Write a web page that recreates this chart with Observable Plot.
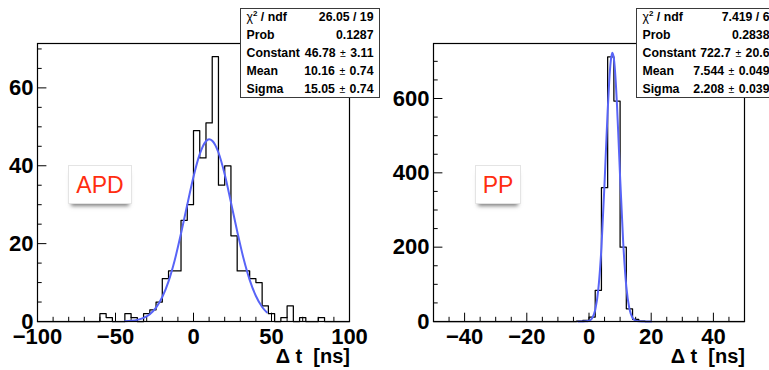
<!DOCTYPE html>
<html>
<head>
<meta charset="utf-8">
<script src="https://cdn.jsdelivr.net/npm/d3@7"></script>
<script src="https://cdn.jsdelivr.net/npm/@observablehq/plot@0.6"></script>
<style>
html,body{margin:0;padding:0;background:#fff;overflow:hidden;}
#page{position:relative;width:769px;height:370px;overflow:hidden;font-family:"Liberation Sans",Arial,Helvetica,sans-serif;background:#fff;}
.panel{position:absolute;top:0;}
.stats{position:absolute;top:8px;width:140px;height:90px;background:#fff;border:1.3px solid #3a3a3a;box-sizing:border-box;font-weight:bold;font-size:12.3px;color:#000;}
.stats .row{position:absolute;left:5.5px;right:5.5px;height:18px;line-height:18px;white-space:nowrap;}
.stats .k{position:absolute;left:0;top:0;}
.stats .v{position:absolute;right:0;top:0;}
.pm{font-weight:normal;font-size:10.5px;margin:0 1px;}
.chi{font-weight:normal;}
.stats sup{font-size:8px;line-height:0;}
.tag{position:absolute;top:165px;height:39px;background:#fff;border:1px solid #e4e4e4;box-sizing:border-box;box-shadow:0 5px 4px -3px rgba(0,0,0,0.5);color:#ff2d10;font-size:23px;text-align:center;line-height:39px;}
.xtitle{position:absolute;top:347px;font-weight:bold;font-size:20px;white-space:pre;line-height:19px;height:20px;color:#000;}
</style>
</head>
<body>
<div id="page">
  <div id="left" class="panel" style="left:0px;"></div>
  <div id="right" class="panel" style="left:385px;"></div>
</div>
<script>
// ---------- data ----------
// APD: 50 bins of 4 ns from -100 to 100
const apdBinStart = -100;
const apdBinWidth = 4;
const apdCounts = [
  0,0,0,0,0,0,0,0,0,0,
  2,1,0,0,2,1,0,2,3,5,
  11,13,13,26,30,49,42,51,68,35,
  40,22,13,13,11,10,4,2,0,1,
  4,0,1,0,0,1,0,0,0,0
];
// PP: 50 bins of 2 ns from -50 to 50
const ppBinStart = -50;
const ppBinWidth = 2;
const ppCounts = [
  0,0,0,0,0,0,0,0,0,0,
  0,0,0,0,0,0,0,0,0,0,
  0,0,0,1,3,12,84,360,712,593,
  200,34,6,1,0,0,0,0,0,0,
  0,0,0,0,0,0,0,0,0,0
];
// Gaussian fit curves
const apdFitX = [-44,-40,-36,-32,-28,-24,-20,-16,-12,-8,-4,0,4,8,10,12,16,20,24,28,32,36,40,44,47];
const apdFitY = [0.07,0.18,0.42,0.93,1.88,3.56,6.28,10.3,15.8,22.6,30.0,37.2,43.0,46.3,46.8,46.4,43.4,37.8,30.6,23.2,16.3,10.7,6.55,3.73,2.34];
const ppFitX = [-3.5,-2,-1,0,1,2,3,4,5,5.5,6,6.5,7,7.5,8,8.5,9,9.5,10,11,12,13,14,15,16,17,18,20];
const ppFitY = [0,0.05,0.4,2.1,9.0,30.9,86.9,199,372,471,566,646,701,723,707,658,582,488,389,212,94,34,10,2.4,0.5,0.07,0,0];
// axes
const apdXDomain = [-100, 100];
const apdYDomain = [0, 71.4];
const apdXMajor = [-100, -50, 0, 50, 100];
const apdXMinor = [-90,-80,-70,-60,-40,-30,-20,-10,10,20,30,40,60,70,80,90];
const apdYMajor = [0, 20, 40, 60];
const apdYMinor = [5,10,15,25,30,35,45,50,55,65,70];
const ppXDomain = [-50, 50];
const ppYDomain = [0, 748];
const ppXMajor = [-40, -20, 0, 20, 40];
const ppXMinor = [-50,-45,-35,-30,-25,-15,-10,-5,5,10,15,25,30,35,45,50];
const ppYMajor = [0, 200, 400, 600];
const ppYMinor = [50,100,150,250,300,350,450,500,550,650,700];
const apdStats = [["Prob","0.1287",null],["Constant","46.78","3.11"],["Mean","10.16","0.74"],["Sigma","15.05","0.74"]];
const apdChi = "26.05 / 19";
const ppStats = [["Prob","0.2838",null],["Constant","722.7","20.6"],["Mean","7.544","0.049"],["Sigma","2.208","0.039"]];
const ppChi = "7.419 / 6";
const xTitle = "\u0394 t  [ns]";

// ---------- drawing ----------
const fmt = d => d < 0 ? "\u2212" + (-d) : String(d);

function stepData(counts, start, width) {
  const pts = counts.map((c, i) => ({x: start + i * width, y: c}));
  pts.push({x: start + counts.length * width, y: counts[counts.length - 1]});
  return pts;
}

function panel(o) {
  const H = 370, mt = 43, mb = 49;
  const fw = o.W - o.ml - o.mr, fh = H - mt - mb;
  return Plot.plot({
    width: o.W, height: H,
    marginLeft: o.ml, marginRight: o.mr, marginTop: mt, marginBottom: mb,
    style: {fontFamily: "'Liberation Sans', Arial, sans-serif", background: "transparent", overflow: "visible", color: "#000"},
    x: {domain: o.xDomain},
    y: {domain: o.yDomain},
    marks: [
      Plot.tickX(o.xMinor, {x: d => d, insetTop: fh - 4.2, stroke: "#000"}),
      Plot.tickX(o.xMajor, {x: d => d, insetTop: fh - 8.3, stroke: "#000"}),
      Plot.tickY(o.yMinor, {y: d => d, insetRight: fw - 4.7, stroke: "#000"}),
      Plot.tickY(o.yMajor, {y: d => d, insetRight: fw - 9.4, stroke: "#000"}),
      Plot.line(stepData(o.counts, o.start, o.width), {x: "x", y: "y", curve: "step-after", stroke: "#000", strokeWidth: 1.25}),
      Plot.line(o.fitX.map((x, i) => ({x, y: o.fitY[i]})), {x: "x", y: "y", curve: "monotone-x", stroke: "#5864f7", strokeWidth: 2}),
      Plot.frame({stroke: "#000", strokeWidth: 1.2}),
      Plot.axisX({ticks: o.xMajor, tickSize: 0, tickPadding: 7, tickFormat: fmt, fontSize: 22, fontWeight: "bold", label: null}),
      Plot.axisY({ticks: o.yMajor, tickSize: 0, tickPadding: 4, tickFormat: fmt, fontSize: 22, fontWeight: "bold", label: null})
    ]
  });
}

document.getElementById("left").appendChild(panel({
  W: 385, ml: 37, mr: 36,
  counts: apdCounts, start: apdBinStart, width: apdBinWidth,
  fitX: apdFitX, fitY: apdFitY,
  xDomain: apdXDomain, yDomain: apdYDomain,
  xMajor: apdXMajor, xMinor: apdXMinor, yMajor: apdYMajor, yMinor: apdYMinor
}));
document.getElementById("right").appendChild(panel({
  W: 384, ml: 48, mr: 25,
  counts: ppCounts, start: ppBinStart, width: ppBinWidth,
  fitX: ppFitX, fitY: ppFitY,
  xDomain: ppXDomain, yDomain: ppYDomain,
  xMajor: ppXMajor, xMinor: ppXMinor, yMajor: ppYMajor, yMinor: ppYMinor
}));

const page = document.getElementById("page");
function addStats(left, chi, rows) {
  const box = document.createElement("div");
  box.className = "stats";
  box.style.left = left + "px";
  let html = `<div class="row" style="top:-1px"><span class="k"><span class="chi">\u03c7</span><sup>2</sup> / ndf</span><span class="v">${chi}</span></div>`;
  rows.forEach((r, i) => {
    const v = r[2] == null ? r[1] : `${r[1]} <span class="pm">\u00b1</span> ${r[2]}`;
    html += `<div class="row" style="top:${17 + i * 18}px"><span class="k">${r[0]}</span><span class="v">${v}</span></div>`;
  });
  box.innerHTML = html;
  page.appendChild(box);
}
addStats(240, apdChi, apdStats);
addStats(636, ppChi, ppStats);

function addTag(left, w, text) {
  const t = document.createElement("div");
  t.className = "tag";
  t.style.left = left + "px";
  t.style.width = w + "px";
  t.textContent = text;
  page.appendChild(t);
}
addTag(68, 64, "APD");
addTag(475, 46, "PP");

function addTitle(right) {
  const t = document.createElement("div");
  t.className = "xtitle";
  t.style.right = right + "px";
  t.textContent = xTitle;
  page.appendChild(t);
}
addTitle(769 - 350);
addTitle(769 - 745);
</script>
</body>
</html>
